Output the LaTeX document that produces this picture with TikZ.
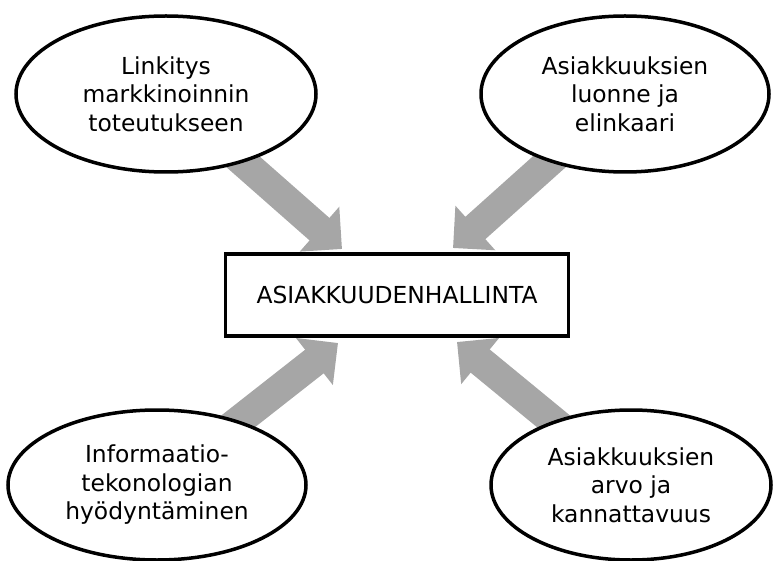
\documentclass[tikz,border=0pt]{standalone}
\usepackage{fontspec}
\setmainfont{DejaVu Sans}
\usetikzlibrary{shapes.geometric,arrows.meta,backgrounds}
\definecolor{arrowgray}{HTML}{A6A6A6}
\tikzset{
  topic/.style={ellipse, draw=black, line width=3.5pt, fill=white, inner sep=0pt,
    align=center, font=\fontsize{23.4}{28.5}\selectfont},
  hub/.style={rectangle, draw=black, line width=3.5pt, fill=white, inner sep=0pt,
    minimum width=343pt, minimum height=82pt, font=\fontsize{23.4}{28.5}\selectfont},
  blockarrow/.style={draw=arrowgray, line width=30pt,
    -{Triangle[width=58pt,length=30pt]}}
}
\begin{document}
\begin{tikzpicture}[x=1pt,y=-1pt]
  \useasboundingbox (0,0) rectangle (773,561);

  % central box
  \node[hub] (crm) at (397,295) {ASIAKKUUDENHALLINTA};

  % four contributing topics
  \node[topic, minimum width=300pt, minimum height=156pt] (link) at (166,94)
    {Linkitys\\markkinoinnin\\toteutukseen};
  \node[topic, minimum width=288pt, minimum height=156pt] (nature) at (625,94)
    {Asiakkuuksien\\luonne ja\\elinkaari};
  \node[topic, minimum width=298pt, minimum height=150pt] (it) at (157,485)
    {Informaatio-\\tekonologian\\hyödyntäminen};
  \node[topic, minimum width=280pt, minimum height=150pt] (value) at (631,485)
    {Asiakkuuksien\\arvo ja\\kannattavuus};

  % arrow tips just outside the box corners
  \coordinate (tipTL) at (342,249);
  \coordinate (tipTR) at (453,248);
  \coordinate (tipBL) at (338,343);
  \coordinate (tipBR) at (457,342);

  % block arrows behind the ellipses
  \begin{pgfonlayer}{background}
    \draw[blockarrow] (link.center) -- (tipTL);
    \draw[blockarrow] (nature.center) -- (tipTR);
    \draw[blockarrow] (it.center) -- (tipBL);
    \draw[blockarrow] (value.center) -- (tipBR);
  \end{pgfonlayer}
\end{tikzpicture}
\end{document}
